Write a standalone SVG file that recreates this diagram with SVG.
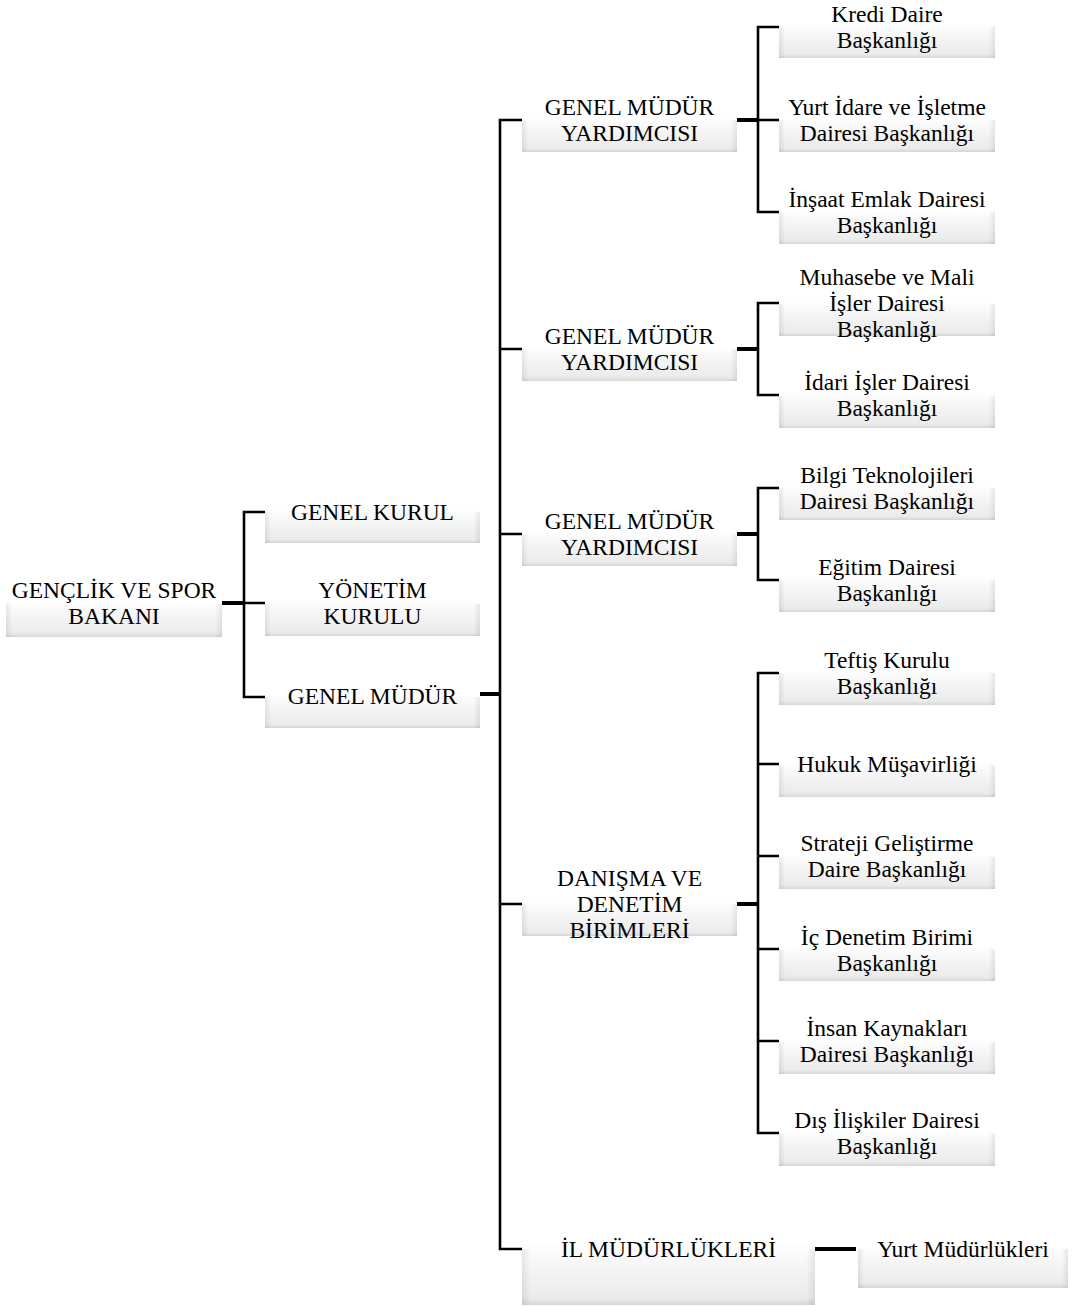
<svg xmlns="http://www.w3.org/2000/svg" width="1076" height="1306" viewBox="0 0 1076 1306">
<defs>
<linearGradient id="bev" x1="0" y1="0" x2="0" y2="1">
<stop offset="0" stop-color="#ffffff"/>
<stop offset="0.45" stop-color="#ffffff"/>
<stop offset="0.62" stop-color="#f7f7f7"/>
<stop offset="0.94" stop-color="#ebebeb"/>
<stop offset="1" stop-color="#d6d6d6"/>
</linearGradient>
<linearGradient id="side" x1="0" y1="0" x2="1" y2="0">
<stop offset="0" stop-color="#000" stop-opacity="0.08"/>
<stop offset="0.03" stop-color="#000" stop-opacity="0"/>
<stop offset="0.97" stop-color="#000" stop-opacity="0"/>
<stop offset="1" stop-color="#000" stop-opacity="0.08"/>
</linearGradient>
<linearGradient id="fade" x1="0" y1="0" x2="0" y2="1">
<stop offset="0" stop-color="#fff" stop-opacity="1"/>
<stop offset="0.5" stop-color="#fff" stop-opacity="0"/>
</linearGradient>
<style>
.box{fill:url(#bev);}
.edge{fill:url(#side);}
.t{font-family:"Liberation Serif","Times New Roman",serif;font-size:23.5px;fill:#000;text-anchor:middle;}
.c{fill:none;stroke:#000;stroke-width:2.6;}
.p{fill:none;stroke:#000;stroke-width:4;}
</style>
</defs>
<rect width="1076" height="1306" fill="#fff"/>

<g id="connectors">
<path class="p" d="M222 603 H244"/>
<path class="c" d="M265 512 H244 V697 H265 M244 603 H265"/>
<path class="p" d="M480 694 H500"/>
<path class="c" d="M522 120 H500 V1249 H522 M500 349 H522 M500 534 H522 M500 904 H522"/>
<path class="p" d="M737 120 H758"/>
<path class="c" d="M779 27 H758 V212 H779 M758 120 H779"/>
<path class="p" d="M737 349 H758"/>
<path class="c" d="M779 303 H758 V395 H779"/>
<path class="p" d="M737 534 H758"/>
<path class="c" d="M779 488 H758 V580 H779"/>
<path class="p" d="M737 904 H758"/>
<path class="c" d="M779 673 H758 V1133 H779 M758 764 H779 M758 856 H779 M758 949 H779 M758 1041 H779"/>
<path class="p" d="M815 1249 H856"/>
</g>

<g id="n-bakan"><rect class="box" x="6" y="572" width="216" height="65"/><rect class="edge" x="6" y="604" width="216" height="33"/><text class="t" x="114" y="597.5">GENÇLİK VE SPOR</text><text class="t" x="114" y="623.5">BAKANI</text></g>

<g id="n-genelkurul"><rect class="box" x="265" y="481" width="215" height="62"/><rect class="edge" x="265" y="512" width="215" height="31"/><text class="t" x="372.5" y="519.5">GENEL KURUL</text></g>
<g id="n-yonetim"><rect class="box" x="265" y="572" width="215" height="64"/><rect class="edge" x="265" y="604" width="215" height="32"/><text class="t" x="372.5" y="597.5">YÖNETİM</text><text class="t" x="372.5" y="623.5">KURULU</text></g>
<g id="n-genelmudur"><rect class="box" x="265" y="666" width="215" height="62"/><rect class="edge" x="265" y="697" width="215" height="31"/><text class="t" x="372.5" y="703.5">GENEL MÜDÜR</text></g>

<g id="n-gmy1"><rect class="box" x="522" y="88" width="215" height="64"/><rect class="edge" x="522" y="120" width="215" height="32"/><text class="t" x="629.5" y="114.5">GENEL MÜDÜR</text><text class="t" x="629.5" y="140.5">YARDIMCISI</text></g>
<g id="n-gmy2"><rect class="box" x="522" y="317" width="215" height="64"/><rect class="edge" x="522" y="349" width="215" height="32"/><text class="t" x="629.5" y="343.5">GENEL MÜDÜR</text><text class="t" x="629.5" y="369.5">YARDIMCISI</text></g>
<g id="n-gmy3"><rect class="box" x="522" y="502" width="215" height="64"/><rect class="edge" x="522" y="534" width="215" height="32"/><text class="t" x="629.5" y="528.5">GENEL MÜDÜR</text><text class="t" x="629.5" y="554.5">YARDIMCISI</text></g>
<g id="n-danisma"><rect class="box" x="522" y="872" width="215" height="64"/><rect class="edge" x="522" y="904" width="215" height="32"/><text class="t" x="629.5" y="885.5">DANIŞMA VE</text><text class="t" x="629.5" y="911.5">DENETİM</text><text class="t" x="629.5" y="937.5">BİRİMLERİ</text></g>
<g id="n-il"><rect class="box" x="522" y="1193" width="293" height="112"/><rect class="edge" x="522" y="1249" width="293" height="56"/><text class="t" x="668.5" y="1256.5">İL MÜDÜRLÜKLERİ</text></g>
<g id="n-yurtmud"><rect class="box" x="858" y="1210" width="210" height="78"/><rect class="edge" x="858" y="1249" width="210" height="39"/><text class="t" x="963" y="1256.5">Yurt Müdürlükleri</text></g>

<g id="n-kredi"><rect class="box" x="779" y="-4" width="216" height="62"/><rect class="edge" x="779" y="27" width="216" height="31"/><text class="t" x="887" y="21.5">Kredi Daire</text><text class="t" x="887" y="47.5">Başkanlığı</text></g>
<g id="n-yurtidare"><rect class="box" x="779" y="89" width="216" height="63"/><rect class="edge" x="779" y="120" width="216" height="32"/><text class="t" x="887" y="114.5">Yurt İdare ve İşletme</text><text class="t" x="887" y="140.5">Dairesi Başkanlığı</text></g>
<g id="n-insaat"><rect class="box" x="779" y="181" width="216" height="63"/><rect class="edge" x="779" y="212" width="216" height="32"/><text class="t" x="887" y="206.5">İnşaat Emlak Dairesi</text><text class="t" x="887" y="232.5">Başkanlığı</text></g>

<g id="n-muhasebe"><rect class="box" x="779" y="272" width="216" height="64"/><rect class="edge" x="779" y="304" width="216" height="32"/><text class="t" x="887" y="284.5">Muhasebe ve Mali</text><text class="t" x="887" y="310.5">İşler Dairesi</text><text class="t" x="887" y="336.5">Başkanlığı</text></g>
<g id="n-idari"><rect class="box" x="779" y="364" width="216" height="64"/><rect class="edge" x="779" y="396" width="216" height="32"/><text class="t" x="887" y="389.5">İdari İşler Dairesi</text><text class="t" x="887" y="415.5">Başkanlığı</text></g>

<g id="n-bilgi"><rect class="box" x="779" y="456" width="216" height="64"/><rect class="edge" x="779" y="488" width="216" height="32"/><text class="t" x="887" y="482.5">Bilgi Teknolojileri</text><text class="t" x="887" y="508.5">Dairesi Başkanlığı</text></g>
<g id="n-egitim"><rect class="box" x="779" y="548" width="216" height="64"/><rect class="edge" x="779" y="580" width="216" height="32"/><text class="t" x="887" y="574.5">Eğitim Dairesi</text><text class="t" x="887" y="600.5">Başkanlığı</text></g>

<g id="n-teftis"><rect class="box" x="779" y="641" width="216" height="64"/><rect class="edge" x="779" y="673" width="216" height="32"/><text class="t" x="887" y="667.5">Teftiş Kurulu</text><text class="t" x="887" y="693.5">Başkanlığı</text></g>
<g id="n-hukuk"><rect class="box" x="779" y="733" width="216" height="64"/><rect class="edge" x="779" y="765" width="216" height="32"/><text class="t" x="887" y="771.5">Hukuk Müşavirliği</text></g>
<g id="n-strateji"><rect class="box" x="779" y="825" width="216" height="64"/><rect class="edge" x="779" y="857" width="216" height="32"/><text class="t" x="887" y="850.5">Strateji Geliştirme</text><text class="t" x="887" y="876.5">Daire Başkanlığı</text></g>
<g id="n-icdenetim"><rect class="box" x="779" y="917" width="216" height="64"/><rect class="edge" x="779" y="949" width="216" height="32"/><text class="t" x="887" y="944.5">İç Denetim Birimi</text><text class="t" x="887" y="970.5">Başkanlığı</text></g>
<g id="n-insan"><rect class="box" x="779" y="1010" width="216" height="64"/><rect class="edge" x="779" y="1042" width="216" height="32"/><text class="t" x="887" y="1035.5">İnsan Kaynakları</text><text class="t" x="887" y="1061.5">Dairesi Başkanlığı</text></g>
<g id="n-dis"><rect class="box" x="779" y="1102" width="216" height="64"/><rect class="edge" x="779" y="1134" width="216" height="32"/><text class="t" x="887" y="1127.5">Dış İlişkiler Dairesi</text><text class="t" x="887" y="1153.5">Başkanlığı</text></g>
</svg>
